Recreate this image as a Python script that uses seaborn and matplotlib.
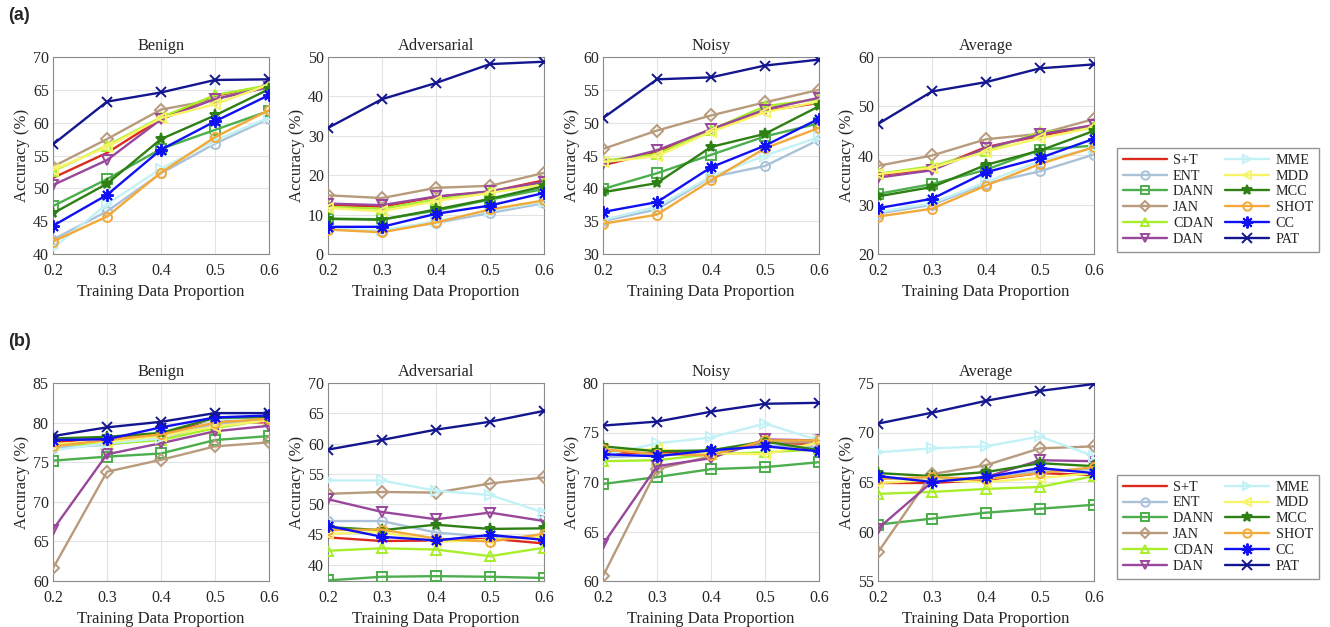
import numpy as np
import pandas as pd
import matplotlib
matplotlib.use("Agg")
import matplotlib.pyplot as plt
from matplotlib.lines import Line2D
import seaborn as sns

proportions = [0.2, 0.3, 0.4, 0.5, 0.6]
methods = ["S+T", "ENT", "DANN", "JAN", "CDAN", "DAN",
           "MME", "MDD", "MCC", "SHOT", "CC", "PAT"]
panels = ["Benign", "Adversarial", "Noisy", "Average"]

# ---- (a) results ----
a_benign = {
    "S+T": [51.6, 55.4, 60.6, 64.1, 65.6], "ENT": [42.2, 46.5, 52.3, 56.8, 60.6],
    "DANN": [47.3, 51.4, 56.0, 58.9, 61.8], "JAN": [53.3, 57.5, 62.0, 63.5, 65.8],
    "CDAN": [52.6, 56.5, 60.8, 64.2, 65.7], "DAN": [50.5, 54.3, 60.5, 63.6, 65.4],
    "MME": [40.9, 47.6, 53.0, 57.3, 60.8], "MDD": [52.8, 56.3, 60.7, 62.8, 65.8],
    "MCC": [46.2, 50.7, 57.5, 61.1, 65.1], "SHOT": [41.9, 45.7, 52.4, 57.8, 61.9],
    "CC": [44.3, 49.0, 55.9, 60.2, 64.2], "PAT": [56.7, 63.2, 64.6, 66.5, 66.6],
}
a_adversarial = {
    "S+T": [12.5, 12.0, 14.5, 15.8, 18.7], "ENT": [6.3, 5.8, 7.9, 10.4, 12.9],
    "DANN": [9.0, 8.8, 11.0, 13.8, 16.5], "JAN": [14.9, 14.2, 16.8, 17.3, 20.6],
    "CDAN": [11.9, 11.5, 13.8, 16.0, 17.9], "DAN": [12.8, 12.4, 14.6, 15.9, 18.3],
    "MME": [6.5, 6.0, 8.3, 11.0, 13.3], "MDD": [11.7, 10.8, 13.4, 15.5, 17.6],
    "MCC": [8.9, 8.7, 11.3, 14.0, 17.2], "SHOT": [6.2, 5.5, 8.0, 11.3, 13.6],
    "CC": [6.9, 6.9, 10.2, 12.3, 15.5], "PAT": [32.0, 39.3, 43.4, 48.2, 48.8],
}
a_noisy = {
    "S+T": [43.5, 45.6, 48.9, 51.8, 53.0], "ENT": [35.0, 36.8, 41.7, 43.4, 47.4],
    "DANN": [39.9, 42.3, 45.1, 47.9, 49.9], "JAN": [46.0, 48.8, 51.1, 53.1, 55.0],
    "CDAN": [44.2, 45.2, 48.9, 52.5, 53.6], "DAN": [43.7, 45.8, 49.0, 52.0, 53.8],
    "MME": [35.2, 37.2, 41.8, 45.0, 47.8], "MDD": [44.0, 44.9, 48.6, 51.6, 53.2],
    "MCC": [39.4, 40.8, 46.3, 48.3, 52.5], "SHOT": [34.6, 36.0, 41.2, 46.1, 49.2],
    "CC": [36.4, 37.9, 43.2, 46.5, 50.6], "PAT": [50.7, 56.6, 56.9, 58.7, 59.6],
}
a_average = {
    "S+T": [36.0, 37.3, 41.7, 44.0, 46.0], "ENT": [28.2, 30.0, 34.3, 36.8, 40.2],
    "DANN": [32.2, 34.2, 37.1, 41.2, 42.0], "JAN": [37.9, 40.0, 43.3, 44.4, 47.4],
    "CDAN": [36.3, 37.8, 41.0, 44.7, 45.8], "DAN": [35.5, 37.0, 41.5, 44.3, 46.2],
    "MME": [28.5, 30.3, 34.6, 38.9, 41.5], "MDD": [36.2, 37.5, 40.8, 43.5, 45.7],
    "MCC": [31.7, 33.6, 38.1, 41.0, 45.0], "SHOT": [27.6, 29.2, 33.9, 38.3, 41.7],
    "CC": [29.3, 31.2, 36.6, 39.5, 43.4], "PAT": [46.4, 53.0, 54.9, 57.7, 58.5],
}

# ---- (b) results ----
b_benign = {
    "S+T": [77.5, 78.1, 78.6, 80.2, 80.0], "ENT": [76.8, 77.2, 78.0, 79.8, 80.3],
    "DANN": [75.2, 75.7, 76.1, 77.8, 78.3], "JAN": [61.6, 73.8, 75.3, 77.0, 77.5],
    "CDAN": [77.2, 77.3, 77.8, 79.3, 80.4], "DAN": [66.5, 76.0, 77.4, 78.9, 79.6],
    "MME": [76.5, 77.4, 78.0, 80.3, 80.8], "MDD": [77.3, 77.6, 78.3, 79.5, 80.3],
    "MCC": [78.0, 78.2, 78.7, 80.6, 80.7], "SHOT": [77.0, 77.8, 78.5, 80.0, 80.5],
    "CC": [77.8, 77.9, 79.4, 80.65, 80.9], "PAT": [78.3, 79.4, 80.1, 81.2, 81.2],
}
b_adversarial = {
    "S+T": [44.5, 43.9, 44.0, 44.3, 43.5], "ENT": [47.2, 47.2, 45.3, 44.6, 44.5],
    "DANN": [37.4, 38.0, 38.1, 38.0, 37.8], "JAN": [51.7, 52.0, 51.9, 53.4, 54.4],
    "CDAN": [42.3, 42.7, 42.5, 41.4, 42.8], "DAN": [50.8, 48.7, 47.5, 48.6, 47.2],
    "MME": [53.9, 53.9, 52.2, 51.5, 48.6], "MDD": [45.1, 45.4, 43.8, 44.1, 44.6],
    "MCC": [46.2, 45.7, 46.6, 45.9, 46.0], "SHOT": [45.7, 45.8, 44.3, 43.8, 45.1],
    "CC": [46.4, 44.6, 44.0, 44.9, 44.1], "PAT": [59.0, 60.6, 62.3, 63.6, 65.4],
}
b_noisy = {
    "S+T": [73.0, 72.9, 73.0, 74.0, 73.8], "ENT": [72.5, 72.7, 73.0, 73.7, 73.5],
    "DANN": [69.8, 70.5, 71.3, 71.5, 72.0], "JAN": [60.5, 71.3, 72.6, 74.0, 74.0],
    "CDAN": [72.1, 72.2, 72.8, 73.0, 73.3], "DAN": [63.7, 71.6, 72.4, 74.3, 74.2],
    "MME": [72.7, 73.9, 74.5, 75.9, 74.2], "MDD": [73.2, 73.3, 72.9, 72.8, 74.0],
    "MCC": [73.6, 73.1, 73.2, 74.1, 73.2], "SHOT": [73.3, 72.8, 72.7, 74.2, 74.2],
    "CC": [72.8, 72.6, 73.2, 73.6, 73.1], "PAT": [75.7, 76.1, 77.1, 77.9, 78.0],
}
b_average = {
    "S+T": [64.9, 64.9, 65.2, 65.9, 65.7], "ENT": [65.4, 65.2, 65.4, 66.1, 66.3],
    "DANN": [60.7, 61.3, 61.9, 62.3, 62.7], "JAN": [57.9, 65.8, 66.7, 68.4, 68.6],
    "CDAN": [63.8, 64.0, 64.3, 64.5, 65.6], "DAN": [60.3, 65.0, 65.5, 67.2, 67.1],
    "MME": [68.0, 68.4, 68.6, 69.6, 67.6], "MDD": [64.9, 65.2, 65.0, 65.4, 65.9],
    "MCC": [65.9, 65.6, 66.0, 66.9, 66.6], "SHOT": [65.3, 65.5, 65.3, 65.9, 66.5],
    "CC": [65.6, 65.0, 65.5, 66.4, 65.9], "PAT": [70.9, 72.0, 73.2, 74.2, 74.9],
}

a_limits = [(40, 70, 5), (0, 50, 10), (30, 60, 5), (20, 60, 10)]
b_limits = [(60, 85, 5), (37.3, 70, 5), (60, 80, 5), (55, 75, 5)]

colors = {
    "S+T": "#dc2a1f", "ENT": "#a9c2d8", "DANN": "#4cae4c", "JAN": "#b89b7c",
    "CDAN": "#a8ee2a", "DAN": "#99479b", "MME": "#c2f2f6", "MDD": "#f7f46a",
    "MCC": "#2f8014", "SHOT": "#f2a93a", "CC": "#1010f5", "PAT": "#13168f",
}
markers = {
    "S+T": None, "ENT": "o", "DANN": "s", "JAN": "D", "CDAN": "^", "DAN": "v",
    "MME": ">", "MDD": "<", "MCC": "*", "SHOT": "o", "CC": (8, 2, 0), "PAT": "x",
}
msize = {"JAN": 6, "MCC": 8, "CC": 9, "PAT": 7}
filled_set = ("MCC", "CC", "PAT")

sns.set_theme(style="whitegrid")
plt.rcParams["font.family"] = ["Liberation Serif", "DejaVu Serif"]
plt.rcParams["mathtext.fontset"] = "stix"

fig = plt.figure(figsize=(13.3, 6.27), dpi=100)

lefts = [53, 328, 603, 878]
W = 1330.0
H = 627.0
rows = [
    ([a_benign, a_adversarial, a_noisy, a_average], a_limits, 57, 254),
    ([b_benign, b_adversarial, b_noisy, b_average], b_limits, 383, 581),
]


def draw_panel(ax, data, lim, title):
    for m in methods:
        df = pd.DataFrame({"x": proportions, "y": data[m]})
        filled = m in filled_set
        sns.lineplot(
            data=df, x="x", y="y", ax=ax, color=colors[m], linewidth=1.7,
            marker=markers[m], markersize=msize.get(m, 6.5),
            markerfacecolor=colors[m] if filled else "none",
            markeredgecolor=colors[m], markeredgewidth=1.4,
            legend=False, zorder=3,
        )
    lo, hi, step = lim
    ax.set_xlim(0.2, 0.6)
    ax.set_ylim(lo, hi)
    ax.set_xticks(proportions)
    ax.set_xticklabels(["0.2", "0.3", "0.4", "0.5", "0.6"])
    first = int(np.ceil(lo / step) * step)
    ax.set_yticks(np.arange(first, hi + 0.01, step))
    ax.set_title(title, fontsize=11.8, pad=5)
    ax.set_xlabel("Training Data Proportion", fontsize=12, labelpad=3.5)
    ax.set_ylabel("Accuracy (%)", fontsize=12, labelpad=2)
    ax.tick_params(axis="x", labelsize=11.5, direction="in", length=3,
                   pad=6.5, colors="#262626")
    ax.tick_params(axis="y", labelsize=11.5, direction="in", length=3,
                   pad=3, colors="#262626")
    ax.grid(True, color="#e3e3e3", linewidth=0.8)
    for sp in ax.spines.values():
        sp.set_visible(True)
        sp.set_color("#8a8a8a")
        sp.set_linewidth(0.8)


for datasets, limits, top, bottom in rows:
    for i, (data, lim, title) in enumerate(zip(datasets, limits, panels)):
        ax = fig.add_axes([lefts[i] / W, 1 - bottom / H, 216 / W, (bottom - top) / H])
        draw_panel(ax, data, lim, title)

handles = []
for m in methods:
    filled = m in filled_set
    handles.append(Line2D([], [], color=colors[m], linewidth=1.7, marker=markers[m],
                          markersize=msize.get(m, 6.5) - 0.5,
                          markerfacecolor=colors[m] if filled else "none",
                          markeredgecolor=colors[m], markeredgewidth=1.4))
for top in (148, 475):
    leg = fig.legend(handles, methods, ncol=2, loc="upper left",
                     bbox_to_anchor=(1117 / W, 1 - top / H),
                     prop={"family": "Liberation Serif", "size": 10.2},
                     frameon=True, fancybox=False, edgecolor="#7a7a7a",
                     handlelength=3.1, handletextpad=0.45, columnspacing=0.8,
                     labelspacing=0.2, borderpad=0.4, borderaxespad=0)
    leg.get_frame().set_linewidth(1.0)

fig.text(8 / W, 1 - 16 / H, "(a)", fontsize=13, fontweight="bold",
         family="Liberation Sans", va="center", ha="left")
fig.text(8 / W, 1 - 341 / H, "(b)", fontsize=13, fontweight="bold",
         family="Liberation Sans", va="center", ha="left")

fig.savefig("out.png", dpi=100, facecolor="white")
